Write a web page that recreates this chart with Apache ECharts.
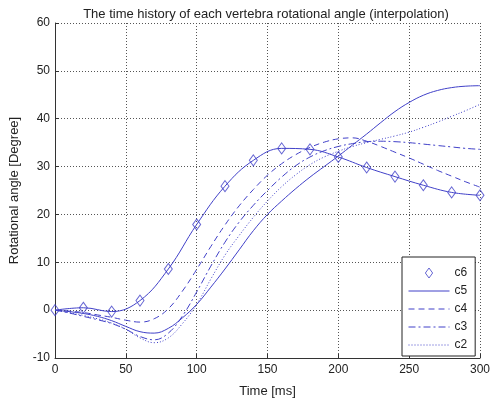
<!DOCTYPE html>
<html><head><meta charset="utf-8">
<script src="https://cdn.jsdelivr.net/npm/echarts@6/dist/echarts.min.js"></script>
<style>html,body{margin:0;padding:0;background:#fff}#c{width:493px;height:403px}</style>
</head><body><div id="c"></div>
<script>
const times = [0,10,20,30,40,50,60,70,80,90,100,110,120,130,140,150,160,170,180,190,200,210,220,230,240,250,260,270,280,290,300];
const c5 = [0,-0.3,-0.7,-1.3,-2.2,-3.4,-4.5,-4.8,-3.8,-1.6,1.2,4.8,8.6,12.6,16.6,20,22.8,25.4,27.8,30,32.2,34.5,36.8,39.2,41.5,43.4,44.9,45.9,46.5,46.8,46.9];
const c4 = [0,-0.2,-0.5,-1.0,-1.5,-2.1,-2.5,-1.8,0.3,4,8.5,13.3,17.8,21.8,25.2,28.2,30.6,32.5,34,35.1,35.8,36,35.3,34.2,33,31.8,30.5,29.2,28,26.8,25.7];
const c3 = [0,-0.6,-1.3,-2.0,-2.8,-4.0,-5.5,-6.2,-4.8,-1.2,3.8,9.2,14.2,18.4,21.9,25,27.8,30.2,32,33.3,34.2,34.8,35.2,35.3,35.2,35,34.7,34.4,34.1,33.8,33.6];
const c2 = [0,-0.5,-1.1,-1.8,-2.7,-4.0,-5.8,-6.8,-5.8,-2.8,1.2,6.5,11.5,15.6,19.4,22.8,25.8,28.3,30.4,32,33.2,34.2,35,35.7,36.4,37.2,38.2,39.3,40.5,41.7,43];
const times6 = [0,20,40,60,80,100,120,140,160,180,200,220,240,260,280,300];
const c6 = [0,0.5,-0.3,2,8.6,17.9,25.9,31.3,33.8,33.6,32.0,29.8,27.9,26.1,24.6,24.0];
const legendNames = ['c6','c5','c4','c3','c2'];

const BLUE = '#4040c8';
const FONT = 'Liberation Sans, Arial';
const pairs = (xs, ys) => xs.map((x,i)=>[x, ys[i]]);
const lineSeries = (name, ys, type) => ({
  name, type:'line', data: pairs(times, ys), smooth:0.4, symbol:'none',
  lineStyle:{color:BLUE, width:1, type}, itemStyle:{color:BLUE}, z:3
});
const chart = echarts.init(document.getElementById('c'), null, {renderer:'canvas'});
const gridLine = {show:true, lineStyle:{color:'#555', width:1, type:[1,2]}};
const dashOf = {c5:'solid', c4:[6,4], c3:[7,3,2,3], c2:[1,2]};
const legendData = legendNames.map(n => n === 'c6'
  ? {name:n, icon:'path://M0,-5.5L4,0L0,5.5L-4,0Z',
     itemStyle:{color:'rgba(255,255,255,0)', borderColor:BLUE, borderWidth:1}}
  : {name:n, itemStyle:{opacity:0}, lineStyle:{width:1, color:BLUE, type:dashOf[n]}});
chart.setOption({
  animation:false,
  title:{text:'The time history of each vertebra rotational angle (interpolation)', left:261, top:3, textAlign:'center',
    textStyle:{fontFamily:FONT, fontSize:13, fontWeight:'normal', color:'#222'}},
  grid:{left:48, right:12, top:23, bottom:39},
  xAxis:{type:'value', min:0, max:300, interval:50, name:'Time [ms]', nameLocation:'middle', nameGap:27,
    nameTextStyle:{fontFamily:FONT, fontSize:13, color:'#222'},
    axisLine:{show:true, onZero:false, lineStyle:{color:'#333', width:1}},
    axisTick:{show:true, inside:true, length:4, lineStyle:{color:'#333'}},
    axisLabel:{fontFamily:FONT, fontSize:12, color:'#222', margin:6},
    splitLine:gridLine},
  yAxis:{type:'value', min:-10, max:60, interval:10, name:'Rotational angle [Degree]', nameLocation:'middle', nameGap:34,
    nameTextStyle:{fontFamily:FONT, fontSize:13, color:'#222'},
    axisLine:{show:true, onZero:false, lineStyle:{color:'#333', width:1}},
    axisTick:{show:true, inside:true, length:4, lineStyle:{color:'#333'}},
    axisLabel:{fontFamily:FONT, fontSize:12, color:'#222', margin:5},
    splitLine:gridLine},
  legend:{data:legendData, orient:'vertical', left:402, top:257, width:75,
    padding:[10,8,5,6], itemWidth:41, itemHeight:10, itemGap:6,
    backgroundColor:'#fff', borderColor:'#222', borderWidth:1, borderRadius:0,
    textStyle:{fontFamily:FONT, fontSize:12, color:'#222'}},
  series:[
    {name:'c6line', type:'line', data:pairs(times6, c6), smooth:0.4, symbol:'none',
      lineStyle:{color:BLUE, width:1}, z:3},
    {name:'c6', type:'scatter', data:pairs(times6, c6), symbol:'diamond', symbolSize:[8,11],
      itemStyle:{color:'rgba(255,255,255,0)', borderColor:BLUE, borderWidth:1}, z:4},
    lineSeries('c5', c5, dashOf.c5),
    lineSeries('c4', c4, dashOf.c4),
    lineSeries('c3', c3, dashOf.c3),
    lineSeries('c2', c2, dashOf.c2)
  ]
});
</script></body></html>
